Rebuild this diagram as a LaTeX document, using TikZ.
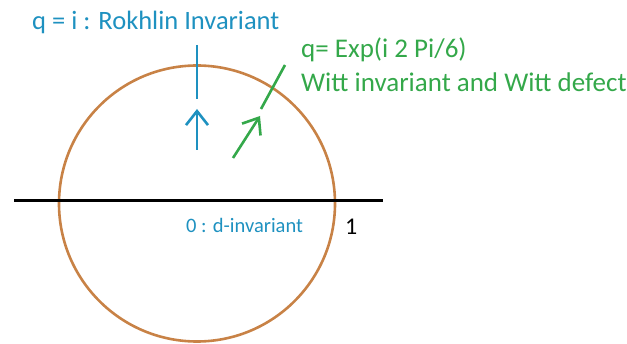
\documentclass[tikz,border=0pt]{standalone}
\usepackage{fontspec}
\setmainfont{Carlito}
\usepackage{xcolor}
\usetikzlibrary{arrows.meta,positioning,calc}

\definecolor{rokblue}{RGB}{30,145,192}
\definecolor{wittgreen}{RGB}{52,168,74}
\definecolor{circorange}{RGB}{200,130,70}

\begin{document}
\begin{tikzpicture}[
x=1pt,y=-1pt,
every node/.style={
inner sep=0pt,
anchor=west
},
tick/.style={line width=2.6pt},
edge/.style={line width=2.6pt,-{Straight Barb[length=14pt,width=22pt]}},
Bstyle/.style={text=rokblue,font=\fontsize{26.5}{30}\selectfont},
Gstyle/.style={text=wittgreen,font=\fontsize{27}{31}\selectfont}
]
\useasboundingbox (0,0) rectangle (627,344);
\draw[circorange,line width=2.6pt] (197,203.5) circle[radius=138];
\draw[line width=2.8pt] (14,200.5) -- (383,200.5);
\node[Bstyle] (title) at (32,22) {q = i : Rokhlin Invariant};
\node[Gstyle] (wittq) at (301,50) {q= Exp(i 2 Pi/6)};
\node[Gstyle] (wittdef) at (301,82) {Witt invariant and Witt defect};
\node[text=rokblue,font=\fontsize{20.5}{24}\selectfont] (dinv) at (186,225) {0 : d-invariant};
\node[font=\fontsize{24}{28}\selectfont] (one) at (345,227) {1};
\coordinate (btop) at (197,45);
\coordinate (bbot) at (197,99);
\coordinate (gtop) at (285,65);
\coordinate (gbot) at (261,109);
\coordinate (bfoot) at (197,150);
\coordinate (bhead) at (197,109);
\coordinate (gfoot) at (233,158);
\coordinate (ghead) at (260,116);
\draw[tick,rokblue] (btop) -- (bbot);
\draw[tick,wittgreen] (gtop) -- (gbot);
\draw[edge,rokblue] (bfoot) -- (bhead);
\draw[edge,wittgreen] (gfoot) -- (ghead);
\end{tikzpicture}
\end{document}
